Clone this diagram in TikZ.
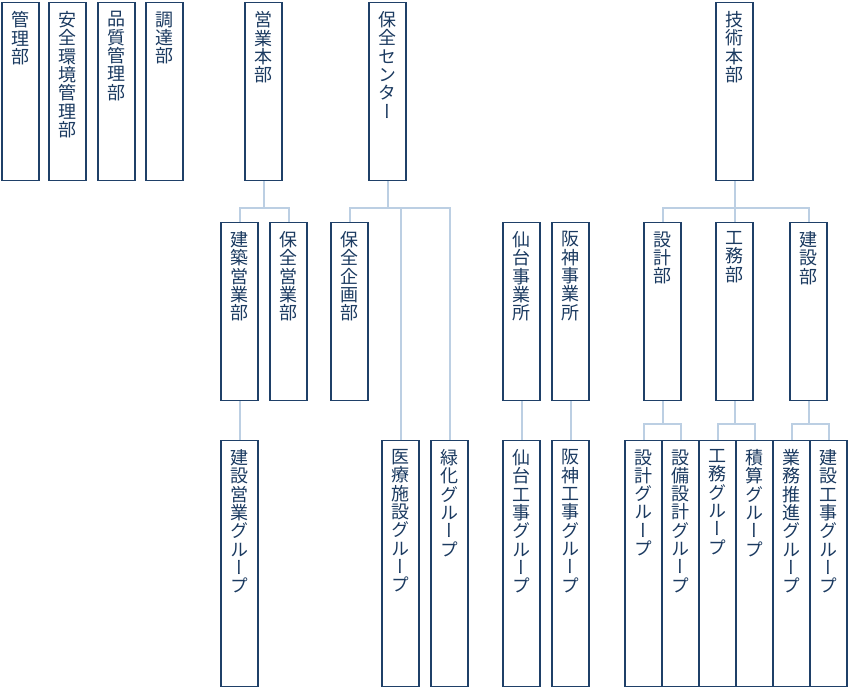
\documentclass[tikz,border=0pt]{standalone}
\usepackage{fontspec}
\usepackage{tikz}
\usetikzlibrary{positioning}
\newfontfamily\jp[RawFeature=+vert]{Noto Sans CJK JP}
\definecolor{frame}{HTML}{1F4068}
\definecolor{ink}{HTML}{1B3A60}
\definecolor{wire}{HTML}{BCCFE3}
% vertical label: one character per line
\makeatletter
\newcommand\tate[2]{\parbox[c][#1][t]{37pt}{\centering\fontsize{18}{18.3}\selectfont
  \vspace*{9pt}\@tfor\tt@ch:=#2\do{\tt@ch\par}}}
\makeatother

\begin{document}
\begin{tikzpicture}[x=1pt,y=-1pt,
    unit/.style={draw=frame, line width=1.1pt, inner sep=0pt, anchor=north, text=ink, font=\jp},
    link/.style={draw=wire, line width=2pt}]
  \useasboundingbox (0,0) rectangle (851,690);

  % junctions of the connectors
  \coordinate (sj) at (263.5,208);
  \coordinate (mj) at (387.5,208);
  \coordinate (tj) at (734.5,208);
  \coordinate (dj) at (662.5,424);
  \coordinate (wj) at (734.5,424);
  \coordinate (cj) at (808.5,424);

  % top row
  \node (mgmt)     [unit] at (20.5,2)  {\tate{178pt}{管理部}};
  \node (safety)   [unit] at (67.5,2)  {\tate{178pt}{安全環境管理部}};
  \node (quality)  [unit] at (116.5,2) {\tate{178pt}{品質管理部}};
  \node (procure)  [unit] at (164.5,2) {\tate{178pt}{調達部}};
  \node (sales)    [unit] at (263.5,2) {\tate{178pt}{営業本部}};
  \node (maint)    [unit] at (387.5,2) {\tate{178pt}{保全センター}};
  \node (tech)     [unit] at (734.5,2) {\tate{178pt}{技術本部}};

  % second row
  \node (bsales)   [unit] at (239.5,222) {\tate{178pt}{建築営業部}};
  \node (msales)   [unit] at (288.5,222) {\tate{178pt}{保全営業部}};
  \node (mplan)    [unit] at (349.5,222) {\tate{178pt}{保全企画部}};
  \node (sendai)   [unit] at (521.5,222) {\tate{178pt}{仙台事業所}};
  \node (hanshin)  [unit] at (570.5,222) {\tate{178pt}{阪神事業所}};
  \node (design)   [unit] at (662.5,222) {\tate{178pt}{設計部}};
  \node (works)    [unit] at (734.5,222) {\tate{178pt}{工務部}};
  \node (constr)   [unit] at (808.5,222) {\tate{178pt}{建設部}};

  % third row
  \node (bgroup)   [unit] at (239.5,440) {\tate{246pt}{建設営業グループ}};
  \node (medical)  [unit] at (400.5,440) {\tate{246pt}{医療施設グループ}};
  \node (green)    [unit] at (449.5,440) {\tate{246pt}{緑化グループ}};
  \node (sgroup)   [unit] at (521.5,440) {\tate{246pt}{仙台工事グループ}};
  \node (hgroup)   [unit] at (570.5,440) {\tate{246pt}{阪神工事グループ}};
  \node (dgroup)   [unit] at (643.5,440) {\tate{246pt}{設計グループ}};
  \node (egroup)   [unit] at (680.5,440) {\tate{246pt}{設備設計グループ}};
  \node (wgroup)   [unit] at (717.5,440) {\tate{246pt}{工務グループ}};
  \node (agroup)   [unit] at (754.5,440) {\tate{246pt}{積算グループ}};
  \node (pgroup)   [unit] at (791.5,440) {\tate{246pt}{業務推進グループ}};
  \node (cgroup)   [unit] at (828.5,440) {\tate{246pt}{建設工事グループ}};

  \draw[link] (sales.south) -- (sj);
  \draw[link] (bsales.north) |- (sj) -| (msales.north);
  \draw[link] (maint.south) -- (mj);
  \draw[link] (mplan.north) |- (green.north |- mj) -- (green.north);
  \draw[link] (medical.north) -- (medical.north |- mj);
  \draw[link] (bsales.south) -- (bgroup.north);
  \draw[link] (sendai.south) -- (sgroup.north);
  \draw[link] (hanshin.south) -- (hgroup.north);
  \draw[link] (tech.south) -- (tj);
  \draw[link] (design.north) |- (tj) -| (constr.north);
  \draw[link] (works.north) -- (tj);
  \draw[link] (design.south) -- (dj);
  \draw[link] (dgroup.north) |- (dj) -| (egroup.north);
  \draw[link] (works.south) -- (wj);
  \draw[link] (wgroup.north) |- (wj) -| (agroup.north);
  \draw[link] (constr.south) -- (cj);
  \draw[link] (pgroup.north) |- (cj) -| (cgroup.north);
\end{tikzpicture}
\end{document}
